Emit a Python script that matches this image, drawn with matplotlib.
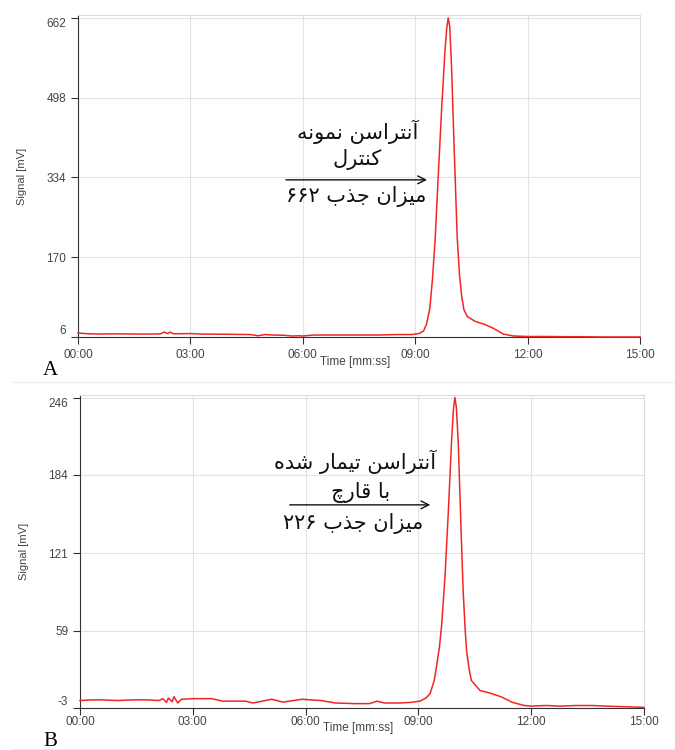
import numpy as np
import matplotlib
matplotlib.use('Agg')
import matplotlib.pyplot as plt
from matplotlib.lines import Line2D

# ---- data (time in minutes, signal in mV) ----
top_time = [0.0, 0.3, 0.6, 1.0, 1.5, 2.0, 2.2, 2.3, 2.4, 2.45, 2.55, 3.0, 3.3, 4.0, 4.6, 4.8,
            5.0, 5.2, 5.5, 5.7, 5.9, 6.0, 6.3, 7.0, 8.0, 8.5, 8.9, 9.0, 9.1, 9.22, 9.3, 9.39,
            9.46, 9.53, 9.62, 9.71, 9.79, 9.84, 9.88, 9.92, 9.97, 10.03, 10.12, 10.18, 10.24,
            10.30, 10.39, 10.6, 10.85, 11.08, 11.35, 11.62, 12.0, 12.5, 13.0, 13.5, 14.0, 14.5, 15.0]
top_signal = [14, 12.5, 12, 12.5, 12, 12, 12.5, 16, 13, 16, 12.5, 13, 12, 11.5, 11, 8.5,
              11, 10, 9.5, 8, 8.5, 8, 10, 10, 10, 11, 11, 12, 13, 18, 32, 65,
              125, 205, 346, 483, 590, 640, 662, 645, 560, 415, 211, 135, 90,
              62, 48, 38, 32, 24, 12, 8, 7, 7, 6.5, 6.5, 6, 6, 6]

bot_time = [0.0, 0.3, 0.6, 1.0, 1.4, 1.8, 2.1, 2.2, 2.3, 2.35, 2.45, 2.5, 2.6, 2.7, 3.0, 3.5,
            3.8, 4.4, 4.6, 5.1, 5.4, 5.9, 6.4, 6.8, 7.3, 7.7, 7.9, 8.1, 8.5, 8.8, 9.04, 9.2,
            9.31, 9.42, 9.49, 9.56, 9.62, 9.71, 9.80, 9.88, 9.93, 9.97, 10.01, 10.06, 10.13,
            10.19, 10.24, 10.28, 10.35, 10.41, 10.64, 10.9, 11.2, 11.5, 11.82, 12.0, 12.4,
            12.77, 13.2, 13.6, 14.0, 14.5, 15.0]
bot_signal = [3, 3.5, 3.5, 3, 3.5, 3.5, 3, 4.5, 1.5, 5, 2, 6, 1, 4, 4.5, 4.5,
              2.5, 2.5, 1, 4, 1.7, 4, 3, 1, 0.5, 0.5, 2.5, 1, 1, 1.5, 2.5, 5,
              8.5, 19, 32, 46, 64, 104, 157, 210, 236, 246, 238, 210, 144,
              91, 62, 43, 28, 19, 11, 9, 6, 1.5, -1, -1.5, -1,
              -1.5, -1, -1, -1.5, -2, -2.5]

x_ticks = [0, 3, 6, 9, 12, 15]
x_labels = ['00:00', '03:00', '06:00', '09:00', '12:00', '15:00']
top_yticks = [6, 170, 334, 498, 662]
bot_yticks = [-3, 59, 121, 184, 246]

top_lines = ['آنتراسن نمونه', 'کنترل', 'میزان جذب ۶۶۲']
bot_lines = ['آنتراسن تیمار شده', 'با قارچ', 'میزان جذب ۲۲۶']

# ---- tiny Persian shaper (matplotlib has no bidi / shaping) ----
FORMS = {  # isolated, final, initial, medial
    'آ': ('\uFE81', '\uFE82', None, None), 'ا': ('\uFE8D', '\uFE8E', None, None),
    'ب': ('\uFE8F', '\uFE90', '\uFE91', '\uFE92'), 'ت': ('\uFE95', '\uFE96', '\uFE97', '\uFE98'),
    'ج': ('\uFE9D', '\uFE9E', '\uFE9F', '\uFEA0'), 'چ': ('\uFB7A', '\uFB7B', '\uFB7C', '\uFB7D'),
    'د': ('\uFEA9', '\uFEAA', None, None), 'ذ': ('\uFEAB', '\uFEAC', None, None),
    'ر': ('\uFEAD', '\uFEAE', None, None), 'ز': ('\uFEAF', '\uFEB0', None, None),
    'س': ('\uFEB1', '\uFEB2', '\uFEB3', '\uFEB4'), 'ش': ('\uFEB5', '\uFEB6', '\uFEB7', '\uFEB8'),
    'ق': ('\uFED5', '\uFED6', '\uFED7', '\uFED8'), 'ک': ('\uFB8E', '\uFB8F', '\uFB90', '\uFB91'),
    'ل': ('\uFEDD', '\uFEDE', '\uFEDF', '\uFEE0'), 'م': ('\uFEE1', '\uFEE2', '\uFEE3', '\uFEE4'),
    'ن': ('\uFEE5', '\uFEE6', '\uFEE7', '\uFEE8'), 'ه': ('\uFEE9', '\uFEEA', '\uFEEB', '\uFEEC'),
    'و': ('\uFEED', '\uFEEE', None, None), 'ی': ('\uFBFC', '\uFBFD', '\uFBFE', '\uFBFF'),
}


def shape_word(word):
    if word[0] not in FORMS:
        return word  # digits stay left-to-right
    out = []
    for i, ch in enumerate(word):
        iso, fin, ini, med = FORMS[ch]
        prev_join = i > 0 and FORMS[word[i - 1]][2] is not None
        next_join = ini is not None and i < len(word) - 1
        if prev_join and next_join:
            out.append(med)
        elif prev_join:
            out.append(fin)
        elif next_join:
            out.append(ini)
        else:
            out.append(iso)
    return ''.join(reversed(out))


def rtl(text):
    return ' '.join(shape_word(w) for w in reversed(text.split(' ')))


plt.rcParams['font.family'] = ['Liberation Sans', 'DejaVu Sans']
fa_font = ['DejaVu Sans']

fig = plt.figure(figsize=(6.75, 7.5), dpi=100)
ax1 = fig.add_axes([0.1156, 0.5507, 0.8326, 0.4293])
ax2 = fig.add_axes([0.1185, 0.056, 0.8356, 0.4173])


def style_axis(ax, ticks, ylim, xpad, xlab_y):
    ax.set_xlim(0, 15)
    ax.set_ylim(*ylim)
    ax.set_xticks(x_ticks)
    ax.set_xticklabels(x_labels)
    ax.set_yticks(ticks)
    ax.set_yticklabels([str(v) for v in ticks])
    ax.grid(True, color='#e3e3e3', linewidth=0.8)
    ax.set_axisbelow(True)
    for side in ['top', 'right']:
        ax.spines[side].set_color('#dcdcdc')
        ax.spines[side].set_linewidth(0.8)
    ax.spines['left'].set_color('#333333')
    ax.spines['bottom'].set_color('#333333')
    ax.tick_params(axis='both', labelsize=8.5, colors='#333333', labelcolor='#444444', length=5, width=0.8)
    ax.tick_params(axis='x', pad=xpad)
    ax.set_ylabel('Signal [mV]', fontsize=8, color='#444444')
    ax.yaxis.set_label_coords(-0.09, 0.5)
    labels = ax.get_yticklabels()
    labels[0].set_verticalalignment('bottom')
    labels[-1].set_verticalalignment('top')
    ax.set_xlabel('Time [mm:ss]', fontsize=8.5, color='#444444')
    ax.xaxis.set_label_coords(0.493, xlab_y)


style_axis(ax1, top_yticks, (6, 668), 3.5, -0.06)
style_axis(ax2, bot_yticks, (-3, 248), 1.0, -0.045)

ax1.plot(top_time, top_signal, color='#f22525', linewidth=1.1, clip_on=False, zorder=3)
ax2.plot(bot_time, bot_signal, color='#f22525', linewidth=1.1, clip_on=False, zorder=3)


def annotate(ax, lines, xs, ys, arrow_x, arrow_y):
    for txt, x, y in zip(lines[:2], xs[:2], ys[:2]):
        ax.text(x, y, rtl(txt), transform=ax.transAxes, ha='center', va='center',
                fontsize=15, family=fa_font, color='#111111')
    ax.annotate('', xy=(arrow_x[1], arrow_y), xytext=(arrow_x[0], arrow_y),
                xycoords='axes fraction', textcoords='axes fraction',
                arrowprops=dict(arrowstyle='->', color='#111111', lw=1.0, mutation_scale=14))
    ax.text(xs[2], ys[2], rtl(lines[2]), transform=ax.transAxes, ha='center', va='center',
            fontsize=15, family=fa_font, color='#111111')


annotate(ax1, top_lines, [0.498, 0.496, 0.495], [0.637, 0.550, 0.435], (0.365, 0.626), 0.488)
annotate(ax2, bot_lines, [0.488, 0.497, 0.484], [0.786, 0.690, 0.591], (0.367, 0.626), 0.649)

# panel letters and faint caption rules
fig.text(50 / 675, 1 - 370 / 750, 'A', fontsize=15, family='Liberation Serif', ha='center', va='center')
fig.text(50 / 675, 1 - 741 / 750, 'B', fontsize=15, family='Liberation Serif', ha='center', va='center')
for y in [382, 749]:
    fig.add_artist(Line2D([12 / 675, 1.0], [1 - y / 750, 1 - y / 750], color='#ececec', linewidth=0.8))

fig.savefig('out.png', dpi=100)
